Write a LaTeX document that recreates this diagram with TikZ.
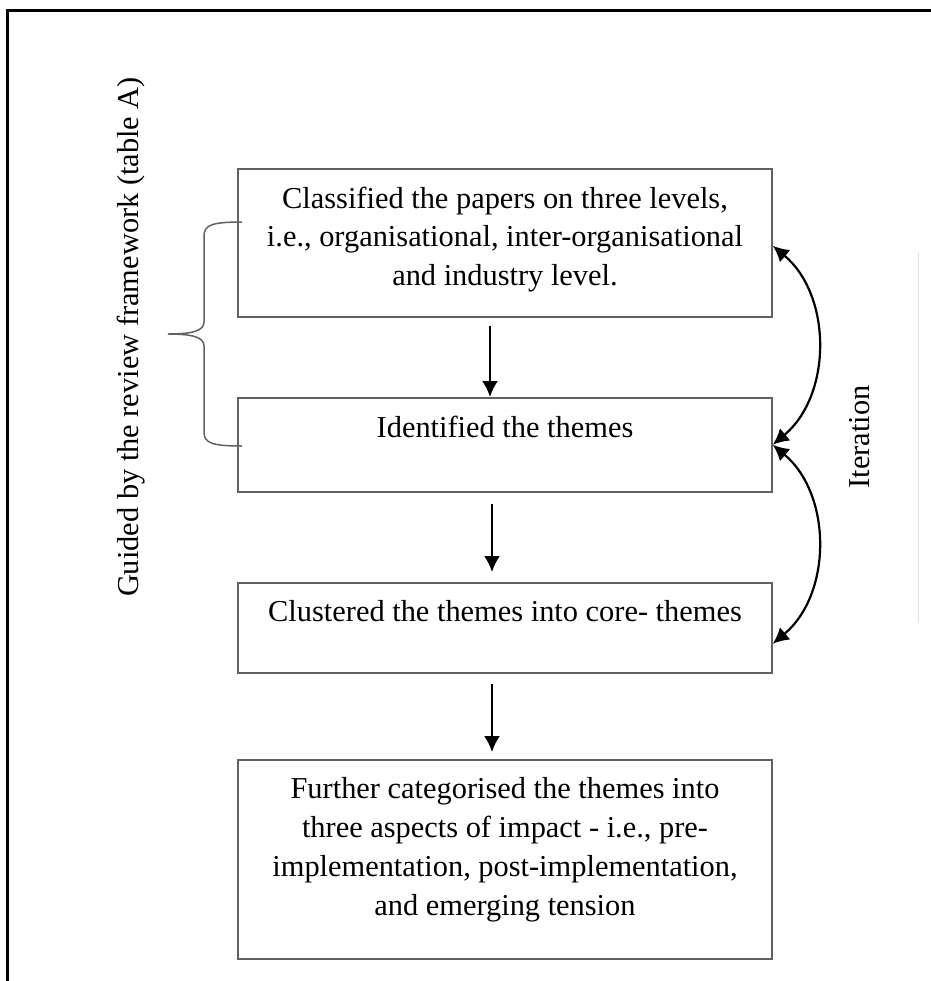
\documentclass[tikz,border=0pt]{standalone}
\usepackage{fontspec}
\setmainfont{Liberation Serif}
\usepackage{tikz}
\usetikzlibrary{arrows.meta}
\usetikzlibrary{positioning}
\tikzset{stage/.style = {draw=boxgrey, line width=0.75pt, inner sep=0pt,
                         minimum width=267pt, anchor=north},
         flow/.style = {line width=1.1pt, -{Latex[length=8pt,width=8pt]}},
         iterarrow/.style = {line width=1.1pt, {Latex[length=8pt,width=8pt]}-{Latex[length=8pt,width=8pt]}}}
\definecolor{boxgrey}{rgb}{0.38, 0.38, 0.38}
\newcommand{\boxtext}[2]{\parbox[c][#1][t]{262pt}{\vspace*{9pt}\centering #2}}

\begin{document}
\begin{tikzpicture}[x=0.5pt, y=0.5pt, font=\fontsize{15.2pt}{19.4pt}\selectfont]
      \useasboundingbox (0, 0) rectangle (931, -981);

      % frame
      \draw [line width=1.5pt] (7, -981) -- (7, -10) -- (931, -10);
      \draw [black!12, line width=0.5pt] (918, -253) -- (918, -623);

      \node [stage, minimum height=74pt] (classify) at (505, -168)
            {\boxtext{74pt}{Classified the papers on three levels,\\
             i.e., organisational, inter-organisational\\ and industry level.}};
      \node [stage, minimum height=47pt] (themes) at (505, -397)
            {\boxtext{47pt}{Identified the themes}};
      \node [stage, minimum height=45pt] (cluster) at (505, -582)
            {\boxtext{45pt}{Clustered the themes into core- themes}};
      \node [stage, minimum height=99.5pt] (categorise) at (505, -759)
            {\boxtext{99.5pt}{Further categorised the themes into\\
             three aspects of impact - i.e., pre-\\
             implementation, post-implementation,\\ and emerging tension}};

      \draw [flow] ([xshift=-7.5pt, yshift=-4pt]classify.south) -- ([xshift=-7.5pt]themes.north);
      \draw [flow] ([xshift=-6.5pt, yshift=-5.5pt]themes.south) -- ([xshift=-6.5pt, yshift=5pt]cluster.north);
      \draw [flow] ([xshift=-6.5pt, yshift=-5pt]cluster.south) -- ([xshift=-6.5pt, yshift=3.5pt]categorise.north);

      \draw [iterarrow] ([yshift=-1.5pt]classify.east) to [out=-40, in=40] (themes.east);
      \draw [iterarrow] (themes.east) to [out=-40, in=40] ([yshift=-8pt]cluster.east);

      % brace
      \draw [boxgrey, line width=0.75pt] (242, -222) .. controls (212, -222) and (204, -225) .. (204, -236)
            -- (204, -322) .. controls (204, -331) and (192, -334) .. (168, -334)
            .. controls (192, -334) and (204, -337) .. (204, -346)
            -- (204, -432) .. controls (204, -443) and (212, -446) .. (242, -446);

      \node [rotate=90] (guided) at (131, -337) {Guided by the review framework (table A)};
      \node [rotate=90] (iteration) at (860, -437) {Iteration};
    \end{tikzpicture}
\end{document}
